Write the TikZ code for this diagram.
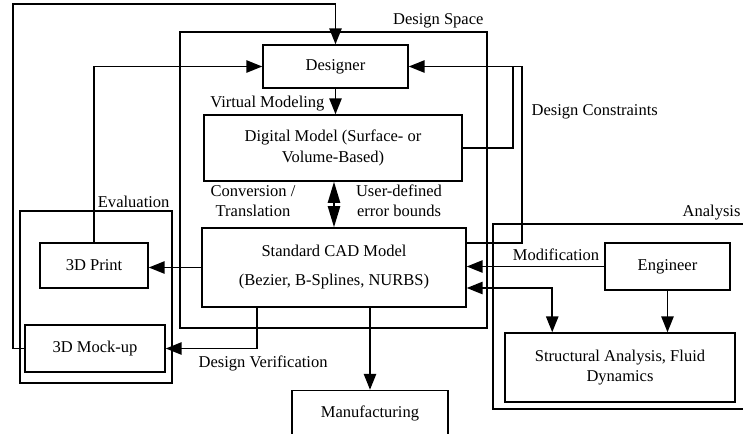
\documentclass[tikz,border=0pt]{standalone}
\usepackage{fontspec}
\setmainfont{Liberation Serif}
\usetikzlibrary{arrows.meta,calc}

\begin{document}
\begin{tikzpicture}[x=0.02cm,y=-0.02cm,line width=0.9pt,
    >={Triangle[length=9pt,width=7pt]},
    font=\fontsize{9.4}{11.5}\selectfont,
    box/.style={draw,inner sep=2pt,align=center},
    frame/.style={draw,inner sep=0pt}]
    \useasboundingbox (0,0) rectangle (743,433);

    \node[frame,minimum width=6.14cm,minimum height=5.92cm] (dspace) at (333.5,180) {};
    \node[frame,minimum width=3.04cm,minimum height=3.44cm] (evalbox) at (96,297) {};
    \draw (746,224) -- (493,224) -- (493,409) -- (746,409);
    \node[anchor=south east,inner sep=1pt] (dspacelbl) at (486,31) {Design Space};
    \node[anchor=south east,inner sep=1pt] (evallbl) at (172,210) {Evaluation};
    \node[anchor=south east,inner sep=1pt] (analbl) at (743,223) {Analysis};

    \node[box,minimum width=2.9cm,minimum height=0.86cm] (designer) at (335.5,66.5) {Designer};
    \node[box,minimum width=5.16cm,minimum height=1.32cm] (digital) at (333,148) {Digital Model (Surface- or\\Volume-Based)};
    \node[box,minimum width=5.28cm,minimum height=1.58cm] (cad) at (334,267.5) {Standard CAD Model\\[5pt](Bezier, B-Splines, NURBS)};
    \node[box,minimum width=2.16cm,minimum height=0.9cm] (print) at (94,265.5) {3D Print};
    \node[box,minimum width=2.8cm,minimum height=0.94cm] (mockup) at (95,348.5) {3D Mock-up};
    \node[box,minimum width=3.12cm,minimum height=0.9cm] (manuf) at (370,413) {Manufacturing};
    \node[box,minimum width=2.5cm,minimum height=0.94cm] (engineer) at (667.5,266.5) {Engineer};
    \node[box,minimum width=4.6cm,minimum height=1.38cm] (struct) at (620,367.5) {Structural Analysis, Fluid\\Dynamics};

    \coordinate (c0) at (13,4);
    \coordinate (c1) at (513,66.5);
    \coordinate (c2) at (522,66.5);

    \draw[->] (mockup.west) -| (c0) -| (designer.north);
    \draw[->] (designer.south) -- (designer.south |- digital.north);
    \node[anchor=east,inner sep=1pt] (vmlbl) at (327,104) {Virtual Modeling};
    \draw[->] (print.north) |- (designer.west);
    \draw[->] (digital.east) -| (c1) -- (designer.east);
    \draw (cad.east) ++(0,-24.5) -| (c2) -- (c1);
    \node[anchor=west] (conslbl) at (525,112) {Design Constraints};
    \draw[{Triangle[length=12pt,width=7pt]}-{Triangle[length=12pt,width=7pt]}] (cad.north |- digital.south) -- (cad.north);
    \node[align=center] (convlbl) at (253,201) {Conversion /\\Translation};
    \node[align=center] (userlbl) at (399,201) {User-defined\\error bounds};
    \draw[->] (cad.west) -- (cad.west -| print.east);
    \draw[->] ($(cad.south west)+(56,0)$) |- (mockup.east);
    \node[anchor=west] (verlbl) at (192,363) {Design Verification};
    \draw[->] (manuf.north |- cad.south) -- (manuf.north);
    \draw[->] (engineer.west) -- (engineer.west -| cad.east);
    \node[anchor=south,inner sep=1pt] (modlbl) at (556,263) {Modification};
    \draw[<->] ($(cad.east)+(0,20.5)$) -| ($(struct.north west)+(48,0)$);
    \draw[->] (engineer.south) -- (engineer.south |- struct.north);
    \end{tikzpicture}
\end{document}
